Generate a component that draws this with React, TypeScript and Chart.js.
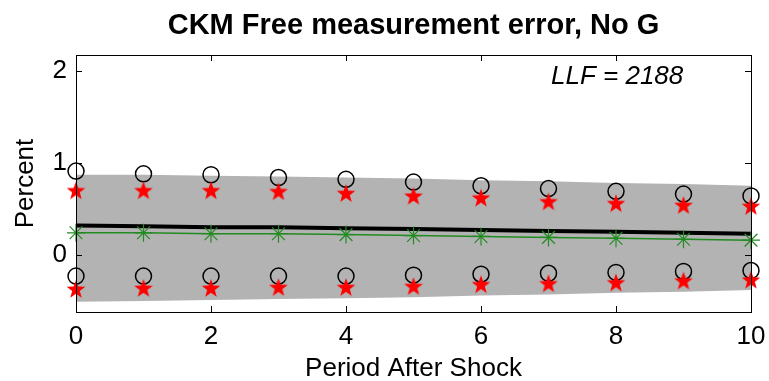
import React, { useEffect, useRef } from "react";
import { Chart, registerables } from "chart.js";
Chart.register(...registerables);

const periods = [0, 1, 2, 3, 4, 5, 6, 7, 8, 9, 10];
const bandUpper = [0.87, 0.87, 0.86, 0.85, 0.84, 0.83, 0.81, 0.8, 0.78, 0.77, 0.75];
const bandLower = [-0.51, -0.5, -0.49, -0.48, -0.47, -0.46, -0.44, -0.43, -0.41, -0.4, -0.38];
const meanLine = [0.32, 0.31, 0.3, 0.3, 0.29, 0.28, 0.27, 0.26, 0.25, 0.24, 0.23];
const greenLine = [0.24, 0.24, 0.23, 0.23, 0.22, 0.21, 0.2, 0.19, 0.18, 0.17, 0.16];
const circlesUpper = [0.91, 0.88, 0.87, 0.84, 0.82, 0.79, 0.75, 0.72, 0.69, 0.66, 0.64];
const circlesLower = [-0.23, -0.23, -0.23, -0.23, -0.23, -0.22, -0.21, -0.2, -0.19, -0.18, -0.17];
const starsUpper = [0.7, 0.7, 0.7, 0.69, 0.67, 0.64, 0.62, 0.58, 0.56, 0.54, 0.53];
const starsLower = [-0.37, -0.36, -0.36, -0.35, -0.35, -0.34, -0.32, -0.31, -0.3, -0.28, -0.27];
const yTicks = [0, 1, 2];
const titleText = "CKM Free measurement error, No G";
const llfText = "LLF = 2188";

const FONT = "'Liberation Sans', Arial, Helvetica, sans-serif";

function pts(vals: number[]) {
  return periods.map((x, i) => ({ x, y: vals[i] }));
}

function makeStar(): HTMLCanvasElement {
  const c = document.createElement("canvas");
  const s = 20;
  c.width = s;
  c.height = s;
  const ctx = c.getContext("2d")!;
  const cx = s / 2, cy = s / 2 + 0.8, R = 9.8, r = 4.0;
  ctx.beginPath();
  for (let i = 0; i < 10; i++) {
    const rad = i % 2 === 0 ? R : r;
    const a = -Math.PI / 2 + (i * Math.PI) / 5;
    const px = cx + rad * Math.cos(a);
    const py = cy + rad * Math.sin(a);
    if (i === 0) ctx.moveTo(px, py);
    else ctx.lineTo(px, py);
  }
  ctx.closePath();
  ctx.fillStyle = "#ff0000";
  ctx.fill();
  return c;
}

const framePlugin = {
  id: "frame",
  afterDraw(chart: any) {
    const { ctx, chartArea: a, scales } = chart;
    ctx.save();
    ctx.strokeStyle = "#000";
    ctx.lineWidth = 1;
    ctx.strokeRect(a.left + 0.5, a.top + 0.5, a.right - a.left, a.bottom - a.top);
    const tl = 6;
    ctx.beginPath();
    scales.x.ticks.forEach((t: any) => {
      const px = Math.round(scales.x.getPixelForValue(t.value)) + 0.5;
      ctx.moveTo(px, a.bottom);
      ctx.lineTo(px, a.bottom - tl);
      ctx.moveTo(px, a.top);
      ctx.lineTo(px, a.top + tl);
    });
    scales.y.ticks.forEach((t: any) => {
      const py = Math.round(scales.y.getPixelForValue(t.value)) + 0.5;
      ctx.moveTo(a.left, py);
      ctx.lineTo(a.left + tl, py);
      ctx.moveTo(a.right, py);
      ctx.lineTo(a.right - tl, py);
    });
    ctx.stroke();
    ctx.font = "italic 26px " + FONT;
    ctx.fillStyle = "#000";
    ctx.textBaseline = "alphabetic";
    ctx.textAlign = "left";
    ctx.fillText(llfText, 551, 84);
    ctx.restore();
  },
};

export default function App() {
  const ref = useRef<HTMLCanvasElement>(null);
  useEffect(() => {
    if (!ref.current) return;
    const star = makeStar();
    const chart = new Chart(ref.current, {
      type: "line",
      data: {
        datasets: [
          {
            data: pts(bandUpper),
            borderWidth: 0,
            pointRadius: 0,
            backgroundColor: "#b3b3b3",
            borderColor: "#b3b3b3",
            fill: "+1",
            order: 10,
            clip: false,
          } as any,
          {
            data: pts(bandLower),
            borderWidth: 0,
            pointRadius: 0,
            borderColor: "#b3b3b3",
            fill: false,
            order: 11,
            clip: false,
          },
          {
            data: pts(meanLine),
            borderColor: "#000",
            borderWidth: 4,
            pointRadius: 0,
            fill: false,
            order: 5,
            clip: false,
          },
          {
            data: pts(greenLine),
            borderColor: "#228b22",
            borderWidth: 1.5,
            pointStyle: "star",
            pointRadius: 9,
            pointBorderWidth: 1.2,
            pointBorderColor: "#228b22",
            fill: false,
            order: 4,
            clip: false,
          },
          {
            data: pts(circlesUpper),
            showLine: false,
            pointStyle: "circle",
            pointRadius: 8,
            pointBorderWidth: 1.5,
            pointBorderColor: "#000",
            pointBackgroundColor: "rgba(0,0,0,0)",
            order: 3,
            clip: false,
          },
          {
            data: pts(circlesLower),
            showLine: false,
            pointStyle: "circle",
            pointRadius: 8,
            pointBorderWidth: 1.5,
            pointBorderColor: "#000",
            pointBackgroundColor: "rgba(0,0,0,0)",
            order: 3,
            clip: false,
          },
          {
            data: pts(starsUpper),
            showLine: false,
            pointStyle: star,
            pointRadius: 10,
            order: 1,
            clip: false,
          },
          {
            data: pts(starsLower),
            showLine: false,
            pointStyle: star,
            pointRadius: 10,
            order: 1,
            clip: false,
          },
        ] as any,
      },
      options: {
        animation: false,
        responsive: false,
        maintainAspectRatio: false,
        layout: { padding: { left: 0, right: 18, top: 0, bottom: 0 } },
        plugins: {
          legend: { display: false },
          tooltip: { enabled: false },
          title: {
            display: true,
            fullSize: false,
            text: titleText,
            color: "#000",
            font: { family: FONT, size: 29, weight: "bold", lineHeight: 1.2 },
            padding: { top: 9, bottom: 11.2 },
          },
        },
        scales: {
          x: {
            type: "linear",
            min: 0,
            max: 10,
            grid: { display: false, drawTicks: false },
            border: { display: false },
            ticks: {
              stepSize: 2,
              color: "#000",
              padding: 9,
              font: { family: FONT, size: 26 },
              maxRotation: 0,
            },
            title: {
              display: true,
              text: "Period After Shock",
              color: "#000",
              font: { family: FONT, size: 26, lineHeight: 1 },
              padding: { top: 0, bottom: -1 },
            },
            afterFit: (s: any) => {
              s.height = 69;
              s.paddingLeft = 0;
              s.paddingRight = 0;
            },
          },
          y: {
            type: "linear",
            min: -0.62,
            max: 2.17,
            grid: { display: false, drawTicks: false },
            border: { display: false },
            afterBuildTicks: (s: any) => {
              s.ticks = yTicks.map((v) => ({ value: v }));
            },
            ticks: {
              color: "#000",
              padding: 9,
              font: { family: FONT, size: 26 },
            },
            title: {
              display: true,
              text: "Percent",
              color: "#000",
              font: { family: FONT, size: 26, lineHeight: 1 },
              padding: { top: 13, bottom: 0 },
            },
            afterFit: (s: any) => {
              s.width = 76;
              s.paddingTop = 0;
              s.paddingBottom = 0;
            },
          },
        },
      },
      plugins: [framePlugin],
    });
    return () => chart.destroy();
  }, []);
  return (
    <div style={{ position: "absolute", left: 0, top: 0, width: 769, height: 381, background: "#fff" }}>
      <canvas ref={ref} width={769} height={381} style={{ width: 769, height: 381 }} />
    </div>
  );
}
